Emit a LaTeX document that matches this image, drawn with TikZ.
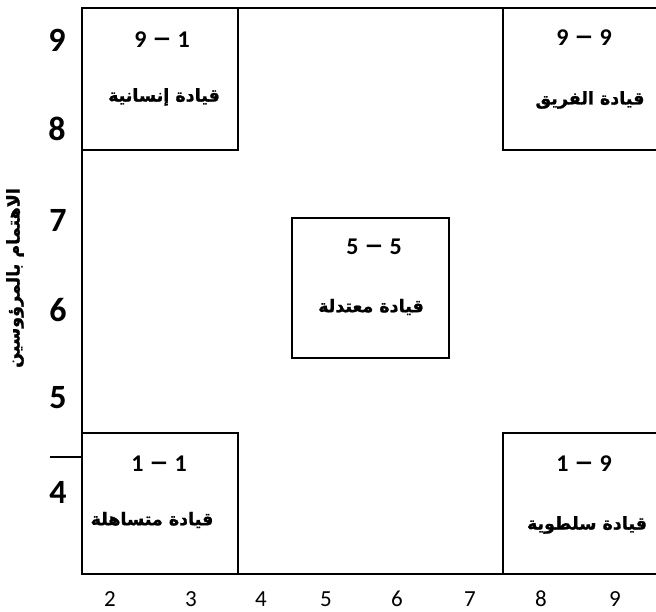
\documentclass[tikz,border=0pt]{standalone}
\usepackage{fontspec}
\setmainfont{Carlito}
\newfontfamily\arabicfont[Script=Arabic,BoldFeatures={FakeBold=1.2}]{DejaVu Sans}
\TeXXeTstate=1
\newcommand{\bigdash}{\scalebox{1.7}[1.2]{\textendash}}
\begin{document}
\begin{tikzpicture}[x=1pt,y=-1pt,
  frame/.style={line width=2pt},
  box/.style={draw, line width=2pt, inner sep=0pt, outer sep=0pt, anchor=north west},
  num/.style={font=\bfseries\fontsize{24}{26}\selectfont},
  ar/.style={font=\arabicfont\bfseries\fontsize{17.5}{20}\selectfont},
  ylab/.style={font=\bfseries\fontsize{34}{40}\selectfont},
  xlab/.style={inner sep=0pt, anchor=base, font=\fontsize{23}{26}\selectfont}]
\useasboundingbox (0,0) rectangle (656,611);
% boxes
\node[box, minimum width=156pt, minimum height=142pt] (tl) at (82,8) {};
\node[box, minimum width=157pt, minimum height=140pt] (mid) at (292,218) {};
\node[box, minimum width=156pt, minimum height=141pt] (bl) at (82,433) {};
% right boxes (cut by the page edge)
\coordinate (trA) at (656,8);
\coordinate (trB) at (503,8);
\coordinate (trC) at (503,150);
\coordinate (trD) at (656,150);
\coordinate (brA) at (656,433);
\coordinate (brB) at (503,433);
\coordinate (brC) at (503,574);
\coordinate (brD) at (656,574);
\draw[frame] (trA) -- (trB) -- (trC) -- (trD);
\draw[frame] (brA) -- (brB) -- (brC) -- (brD);
% frame lines
\draw[frame] (tl.north east) -- (trB);
\draw[frame] (tl.south west) -- (bl.north west);
\draw[frame] (bl.south east) -- (brC);
\coordinate (tick) at (50,457);
\draw[line width=1.2pt] (tick) -- (tick -| bl.west);
% box texts
\node[num] (n1) at (162,40) {9 \bigdash{} 1};
\node[ar] (a1) at (164,97) {\beginR قيادة إنسانية\endR};
\node[num] (n2) at (584,38) {9 \bigdash{} 9};
\node[ar] (a2) at (590,100) {\beginR قيادة الفريق\endR};
\node[num] (n3) at (374,247) {5 \bigdash{} 5};
\node[ar] (a3) at (371,307) {\beginR قيادة معتدلة\endR};
\node[num] (n4) at (159,464) {1 \bigdash{} 1};
\node[ar] (a4) at (152,520) {\beginR قيادة متساهلة\endR};
\node[num] (n5) at (584,464) {1 \bigdash{} 9};
\node[ar] (a5) at (587,525) {\beginR قيادة سلطوية\endR};
% y axis
\node[ylab] (y9) at (57,40) {9};
\node[ylab] (y8) at (57,129) {8};
\node[ylab] (y7) at (58,220) {7};
\node[ylab] (y6) at (58,310) {6};
\node[ylab] (y5) at (58,398) {5};
\node[ylab] (y4) at (58,492) {4};
\node[ar, rotate=90] (ytitle) at (15,278) {\beginR الاهتمام بالمرؤوسين\endR};
% x axis
\node[xlab] (x2) at (110,606) {2};
\node[xlab] (x3) at (191,606) {3};
\node[xlab] (x4) at (261,606) {4};
\node[xlab] (x5) at (326,606) {5};
\node[xlab] (x6) at (397,606) {6};
\node[xlab] (x7) at (470,606) {7};
\node[xlab] (x8) at (541,606) {8};
\node[xlab] (x9) at (615,606) {9};
\end{tikzpicture}
\end{document}
